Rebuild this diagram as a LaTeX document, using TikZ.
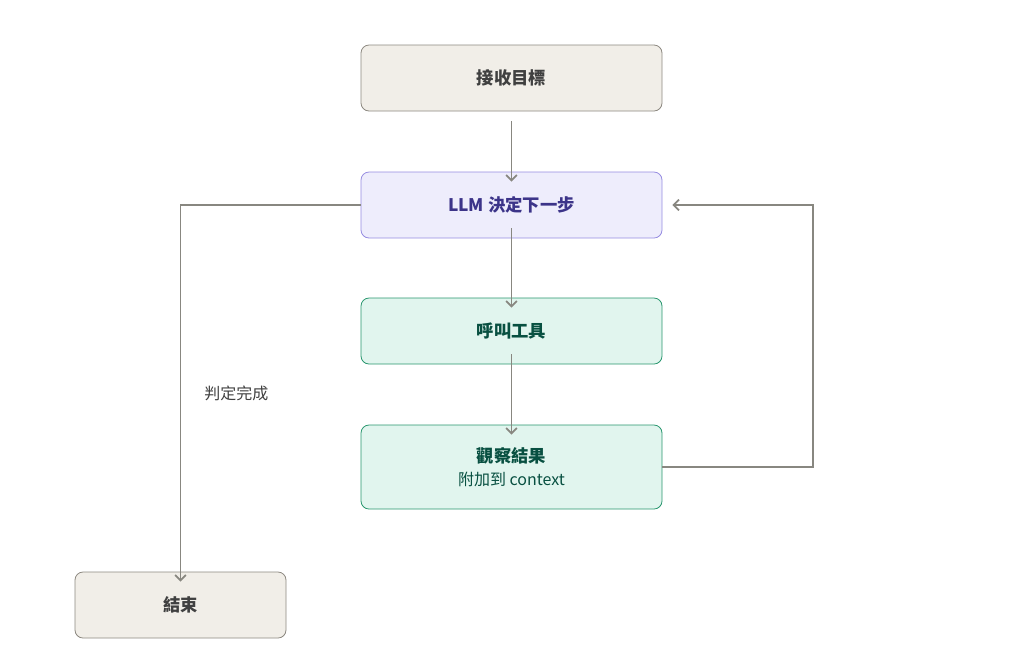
\documentclass[tikz,border=0pt]{standalone}
\usepackage{fontspec}
\setmainfont{Noto Sans CJK TC}
\usetikzlibrary{positioning,arrows.meta}
\definecolor{sand}{RGB}{241,238,232}
\definecolor{sandline}{RGB}{140,136,128}
\definecolor{lilac}{RGB}{238,237,252}
\definecolor{lilacline}{RGB}{150,140,225}
\definecolor{indigoink}{RGB}{60,52,137}
\definecolor{mint}{RGB}{225,245,238}
\definecolor{mintline}{RGB}{40,150,110}
\definecolor{pine}{RGB}{8,80,65}
\definecolor{wire}{RGB}{136,135,128}
\tikzset{>={Straight Barb[length=4pt,width=8pt]}}
\tikzset{
  box/.style={draw, rounded corners=6pt, minimum width=301*0.75pt, minimum height=66*0.75pt, font=\bfseries\fontsize{13}{16}\selectfont, line width=0.6pt},
  plain box/.style={box, fill=sand, draw=sandline, text=black!75},
  llm box/.style={box, fill=lilac, draw=lilacline, text=indigoink},
  tool box/.style={box, fill=mint, draw=mintline, text=pine},
  flow/.style={->, draw=wire, line width=1.3pt}
}
\begin{document}
\begin{tikzpicture}[x=0.75pt,y=-0.75pt]
    \useasboundingbox (0,0) rectangle (1024,669);
    \node[plain box](goal) at (511.5,78) {接收目標};
    \node[llm box](decide) at (511.5,205) {LLM 決定下一步};
    \node[tool box](call) at (511.5,331) {呼叫工具};
    \node[tool box, minimum height=84*0.75pt, align=center](observe) at (511.5,467)
        {觀察結果\\[1pt]{\normalfont\fontsize{12}{14}\selectfont 附加到 context}};
    \node[plain box, minimum width=211*0.75pt](stop) at (180.5,605) {結束};
    \coordinate (turn) at (813,205);
    \draw[flow] (goal.south) ++(0,10) -- ([yshift=-10*0.75pt]decide.north);
    \draw[flow] ([yshift=10*0.75pt]decide.south) -- ([yshift=-10*0.75pt]call.north);
    \draw[flow] ([yshift=10*0.75pt]call.south) -- ([yshift=-10*0.75pt]observe.north);
    \draw[flow] (decide.west) -| ([yshift=-10*0.75pt]stop.north)
        node[pos=0.75, right=14pt, font=\fontsize{12}{14}\selectfont, text=black!75] {判定完成};
    \draw[flow] (observe.east) -| (turn) -- ([xshift=10*0.75pt]decide.east);
\end{tikzpicture}
\end{document}
